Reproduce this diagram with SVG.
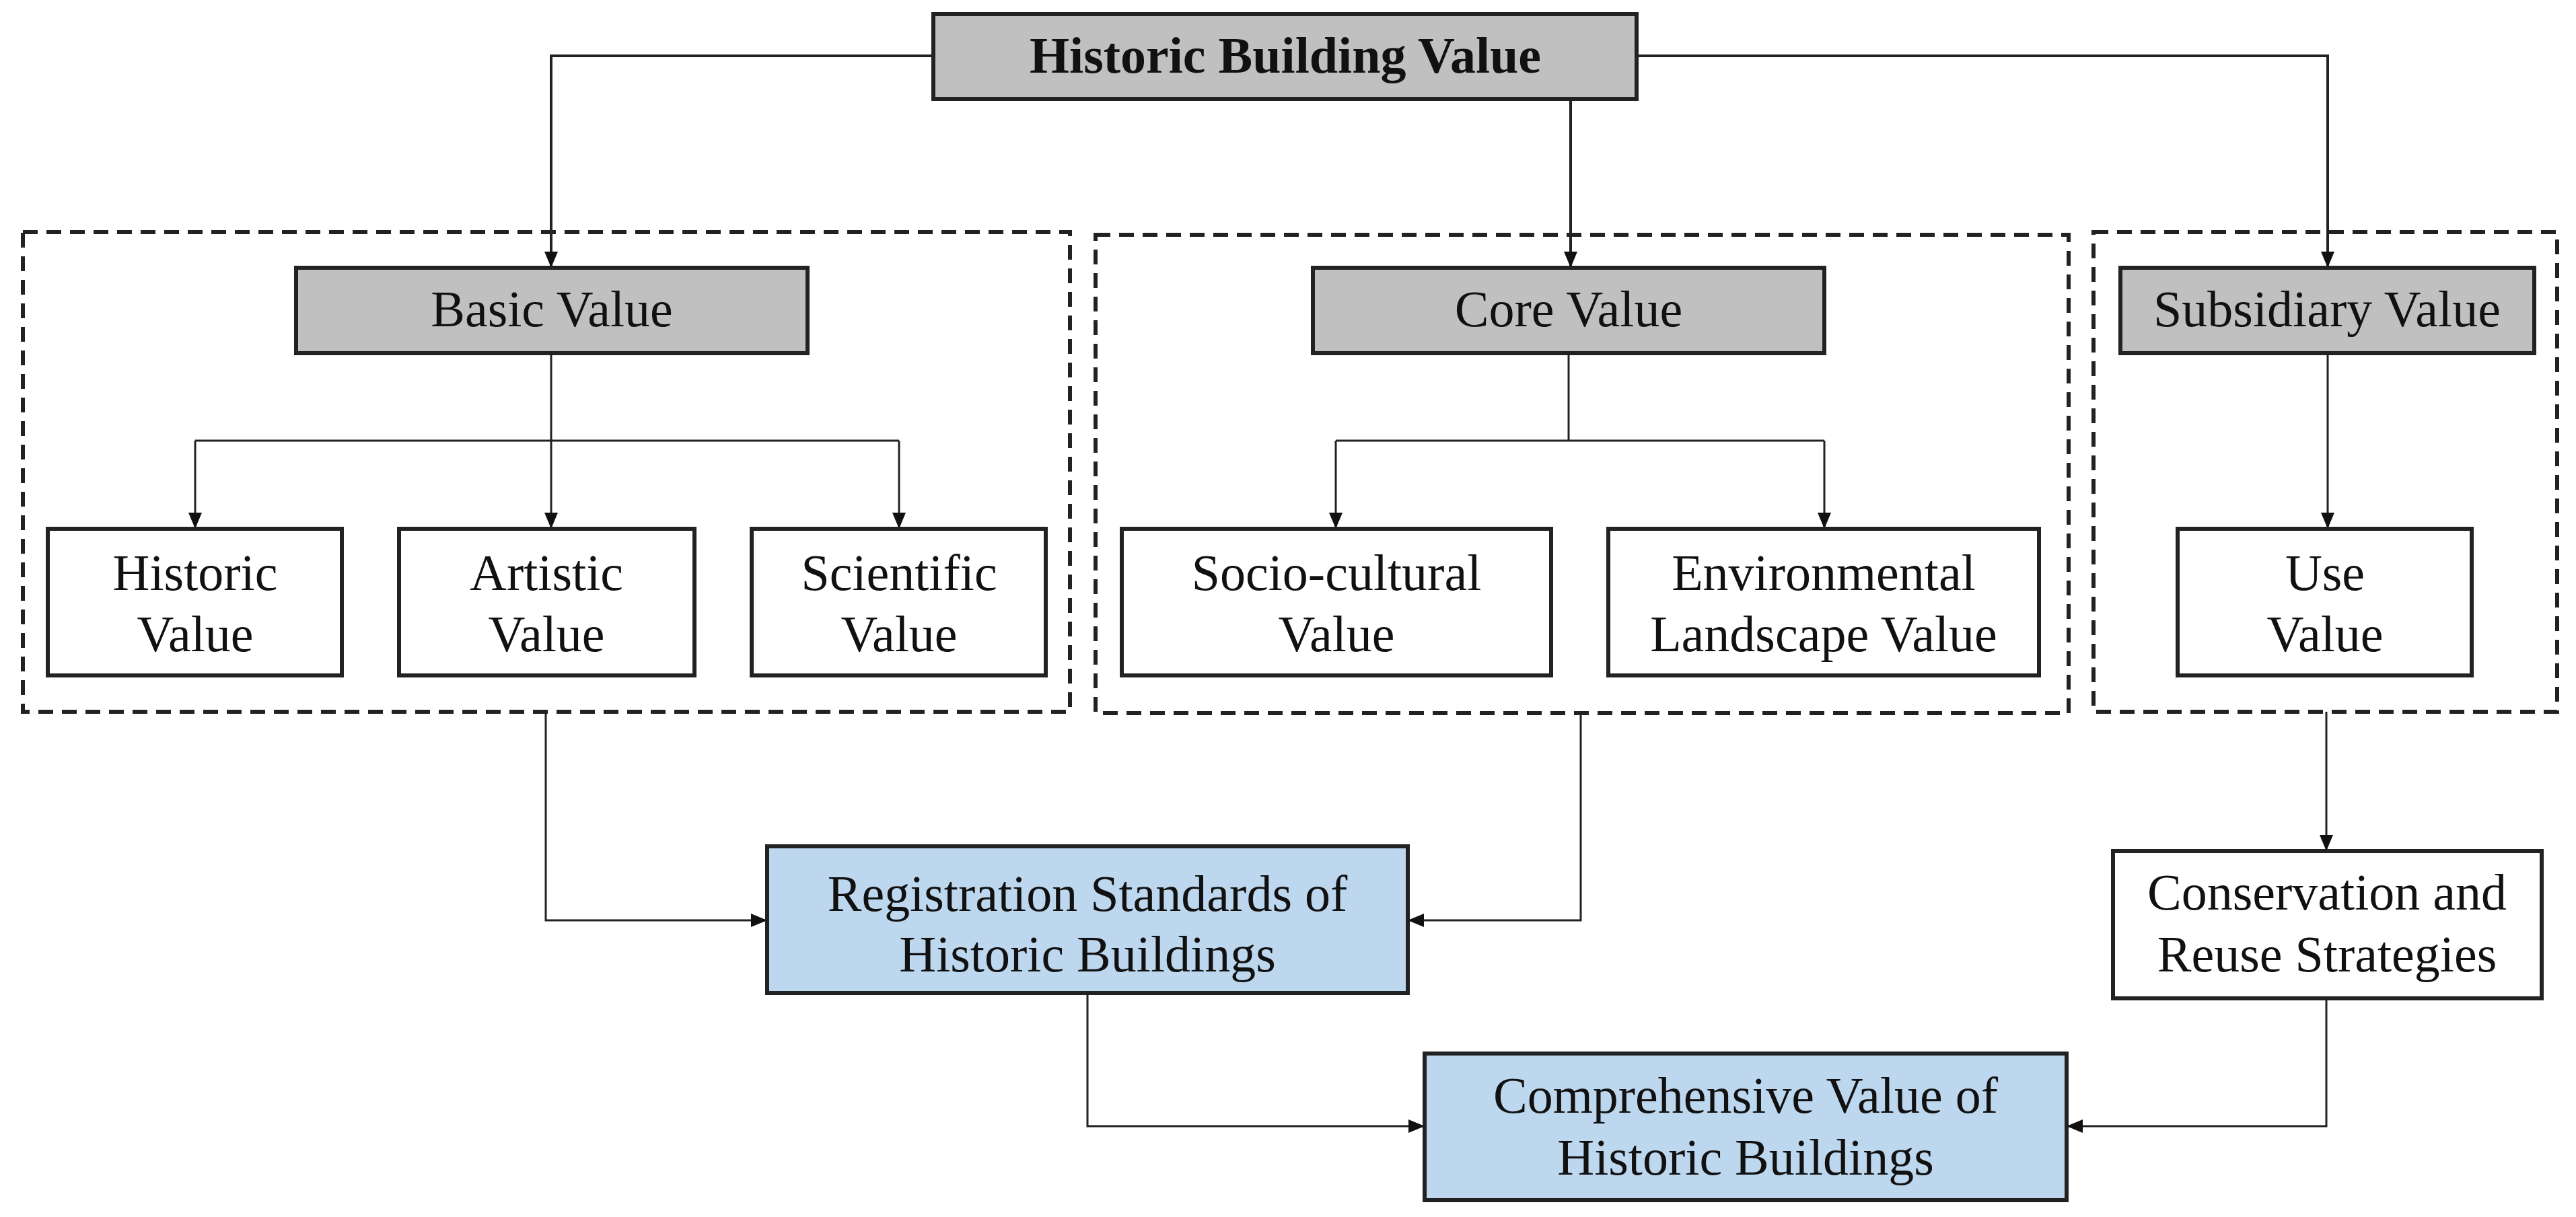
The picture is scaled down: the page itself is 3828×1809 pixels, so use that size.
<svg xmlns="http://www.w3.org/2000/svg" width="3828" height="1809" viewBox="0 0 3828 1809">
<style>
.box{stroke:#222;stroke-width:6}
.g{fill:#c0c0c0}.w{fill:#fff}.b{fill:#bdd7ee}
.dash{fill:none;stroke:#222;stroke-width:6;stroke-dasharray:22 13}
text{font-family:"Liberation Serif","Times New Roman",serif;font-size:76px;text-anchor:middle;fill:#111}
.c{fill:none;stroke:#222;stroke-width:4}
.t{fill:none;stroke:#222;stroke-width:3}
</style>
<defs>
<marker id="a" markerUnits="userSpaceOnUse" markerWidth="24" markerHeight="20" refX="24" refY="10" orient="auto"><path d="M0,0 L24,10 L0,20 Z" fill="#111"/></marker>
</defs>
<g id="groups">
<rect class="dash" x="34" y="345" width="1556" height="713"/>
<rect class="dash" x="1628" y="349" width="1446" height="711"/>
<rect class="dash" x="3111" y="345" width="689" height="713"/>
</g>
<g id="connectors">
<path class="c" d="M1387,83 H819 V398" marker-end="url(#a)"/>
<path class="c" d="M2334,147 V398" marker-end="url(#a)"/>
<path class="c" d="M2432,83 H3459 V398" marker-end="url(#a)"/>
<path class="t" d="M819,525 V786" marker-end="url(#a)"/>
<path class="t" d="M290,655 H1336"/>
<path class="t" d="M290,655 V786" marker-end="url(#a)"/>
<path class="t" d="M1336,655 V786" marker-end="url(#a)"/>
<path class="t" d="M2331,525 V655"/>
<path class="t" d="M1985,655 H2711"/>
<path class="t" d="M1985,655 V786" marker-end="url(#a)"/>
<path class="t" d="M2711,655 V786" marker-end="url(#a)"/>
<path class="t" d="M3459,525 V786" marker-end="url(#a)"/>
<path class="t" d="M811,1058 V1368 H1140" marker-end="url(#a)"/>
<path class="t" d="M2349,1060 V1368 H2092" marker-end="url(#a)"/>
<path class="t" d="M3457,1058 V1265" marker-end="url(#a)"/>
<path class="t" d="M1616,1476 V1674 H2117" marker-end="url(#a)"/>
<path class="t" d="M3457,1484 V1674 H3071" marker-end="url(#a)"/>
</g>
<g id="n-top"><rect class="box g" x="1387" y="21" width="1045" height="126"/><text x="1910" y="108" font-weight="bold">Historic Building Value</text></g>
<g id="n-basic"><rect class="box g" x="440" y="398" width="760" height="127"/><text x="820" y="485">Basic Value</text></g>
<g id="n-core"><rect class="box g" x="1951" y="398" width="760" height="127"/><text x="2331" y="485">Core Value</text></g>
<g id="n-sub"><rect class="box g" x="3151" y="398" width="615" height="127"/><text x="3458" y="485">Subsidiary Value</text></g>
<g id="n-historic"><rect class="box w" x="71" y="786" width="437" height="218"/><text x="290" y="877">Historic</text><text x="290" y="968">Value</text></g>
<g id="n-artistic"><rect class="box w" x="593" y="786" width="439" height="218"/><text x="812" y="877">Artistic</text><text x="812" y="968">Value</text></g>
<g id="n-scientific"><rect class="box w" x="1117" y="786" width="437" height="218"/><text x="1336" y="877">Scientific</text><text x="1336" y="968">Value</text></g>
<g id="n-socio"><rect class="box w" x="1667" y="786" width="638" height="218"/><text x="1986" y="877">Socio-cultural</text><text x="1986" y="968">Value</text></g>
<g id="n-env"><rect class="box w" x="2390" y="786" width="640" height="218"/><text x="2710" y="877">Environmental</text><text x="2710" y="968">Landscape Value</text></g>
<g id="n-use"><rect class="box w" x="3236" y="786" width="437" height="218"/><text x="3455" y="877">Use</text><text x="3455" y="968">Value</text></g>
<g id="n-reg"><rect class="box b" x="1140" y="1258" width="952" height="218"/><text x="1616" y="1354">Registration Standards of</text><text x="1616" y="1444">Historic Buildings</text></g>
<g id="n-cons"><rect class="box w" x="3140" y="1265" width="637" height="219"/><text x="3458" y="1352">Conservation and</text><text x="3458" y="1444">Reuse Strategies</text></g>
<g id="n-comp"><rect class="box b" x="2117" y="1566" width="954" height="218"/><text x="2594" y="1654">Comprehensive Value of</text><text x="2594" y="1746">Historic Buildings</text></g>
</svg>
